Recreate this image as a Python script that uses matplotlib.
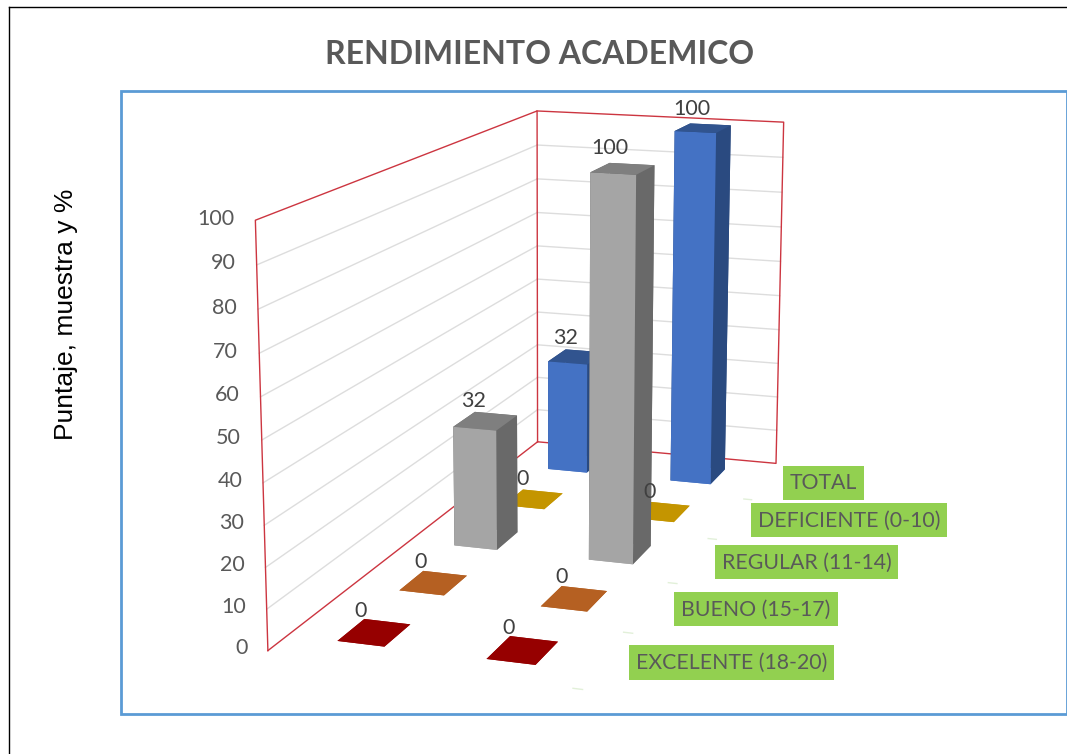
import matplotlib
matplotlib.use('Agg')
import matplotlib.pyplot as plt
from matplotlib.lines import Line2D
from matplotlib.patches import Rectangle
from mpl_toolkits.mplot3d import proj3d
import numpy as np

W, H = 1067, 754

series = ["EXCELENTE (18-20)", "BUENO (15-17)", "REGULAR (11-14)", "DEFICIENTE (0-10)", "TOTAL"]
cat1_vals = [0, 0, 32, 0, 32]
cat2_vals = [0, 0, 100, 0, 100]
zticks = [0, 10, 20, 30, 40, 50, 60, 70, 80, 90, 100]

# front, top, side colours per series
front_cols = ["#960000", "#B56022", "#A5A5A5", "#C49500", "#4472C4"]
top_cols = ["#960000", "#B56022", "#7F7F7F", "#C49500", "#31548F"]
side_cols = ["#960000", "#B56022", "#696969", "#C49500", "#2A4A80"]

GREY = "#595959"
RED = "#CC3540"

plt.rcParams['font.family'] = ['Lato', 'DejaVu Sans']
fig = plt.figure(figsize=(W / 100, H / 100), dpi=100)

size = 860
cx, cy = 552.5, 359
ax = fig.add_axes([(cx - 0.5135 * size) / W, (H - cy - 0.5135 * size) / H, size / W, size / H],
                  projection='3d')
ax.set_proj_type('persp', focal_length=0.52)
ax.view_init(elev=13.5, azim=-71.3)
ax.set_xlim(0, 2, view_margin=0)
ax.set_ylim(0, 5, view_margin=0)
ax.set_zlim(0, 100, view_margin=0)
ax.set_box_aspect((1.03, 2.65, 1.4))
ax.set_axis_off()
ax.computed_zorder = False


# text placed at a 3d spot, kept as plain 2d text
def label3d(x, y, z, s, **kw):
    px, py, _ = proj3d.proj_transform(x, y, z, ax.get_proj())
    return ax.text2D(px, py, s, transform=ax.transData, **kw)


# walls and grid
for z in zticks[1:-1]:
    ax.plot([0, 0], [0, 5], [z, z], color="#DDDDDD", lw=1, zorder=1)
    ax.plot([0, 2], [5, 5], [z, z], color="#DDDDDD", lw=1, zorder=1)
for xs, ys, zs in [([0, 0, 0, 0], [0, 0, 5, 5], [0, 100, 100, 0]),
                   ([0, 2, 2, 0], [5, 5, 5, 5], [100, 100, 0, 0]),
                   ([0, 0], [5, 0], [0, 0]),
                   ]:
    ax.plot(xs, ys, zs, color=RED, lw=1, zorder=2)

# small pale ticks along the floor edge
for i in range(5):
    ax.plot([2, 2.06], [i, i], [0, 0], color="#E2F0D9", lw=1, zorder=2)

# tick labels of the vertical axis
for z in zticks:
    label3d(-0.14, 0, z, str(z), ha='right', va='center', color=GREY, fontsize=15.5, zorder=50)

width = 0.32
depth = 0.42
for i in range(len(series)):
    faces = [front_cols[i], top_cols[i], front_cols[i], side_cols[i], side_cols[i], side_cols[i]]
    for j, vals in enumerate([cat1_vals, cat2_vals]):
        xc = 0.5 + j
        ax.bar3d(xc - width / 2, i + 0.5 - depth / 2, 0, width, depth, vals[i],
                 color=faces, shade=False, linewidth=0, zorder=10 + (4 - i) * 2 + j)
        label3d(xc - 0.09, i + 0.5, vals[i] + 2.5, str(vals[i]), ha='center', va='bottom',
                color="#404040", fontsize=15.5, zorder=40)
    label3d(2.23, i + 0.52, 0, series[i], ha='left', va='center', color=GREY, fontsize=15.3, zorder=45,
            bbox=dict(facecolor="#92D050", edgecolor='none', pad=5))

fig.add_artist(Line2D([9 / W, 9 / W], [0, 1 - 7 / H], color='black', lw=1))
fig.add_artist(Line2D([9 / W, 1], [1 - 7 / H, 1 - 7 / H], color='black', lw=1))
fig.add_artist(Rectangle((121 / W, 1 - 714 / H), 946 / W, 623 / H, fill=False, edgecolor="#5B9BD5", lw=2))

fig.text(540 / W, 1 - 55 / H, "RENDIMIENTO ACADEMICO", ha='center', va='center',
         color=GREY, fontsize=23, fontweight='bold')
fig.text(66 / W, 1 - 314 / H, "Puntaje, muestra y %", rotation=90, ha='center', va='center',
         color='black', fontsize=19, family=['Liberation Sans', 'DejaVu Sans'])

fig.savefig('out.png', dpi=100)
